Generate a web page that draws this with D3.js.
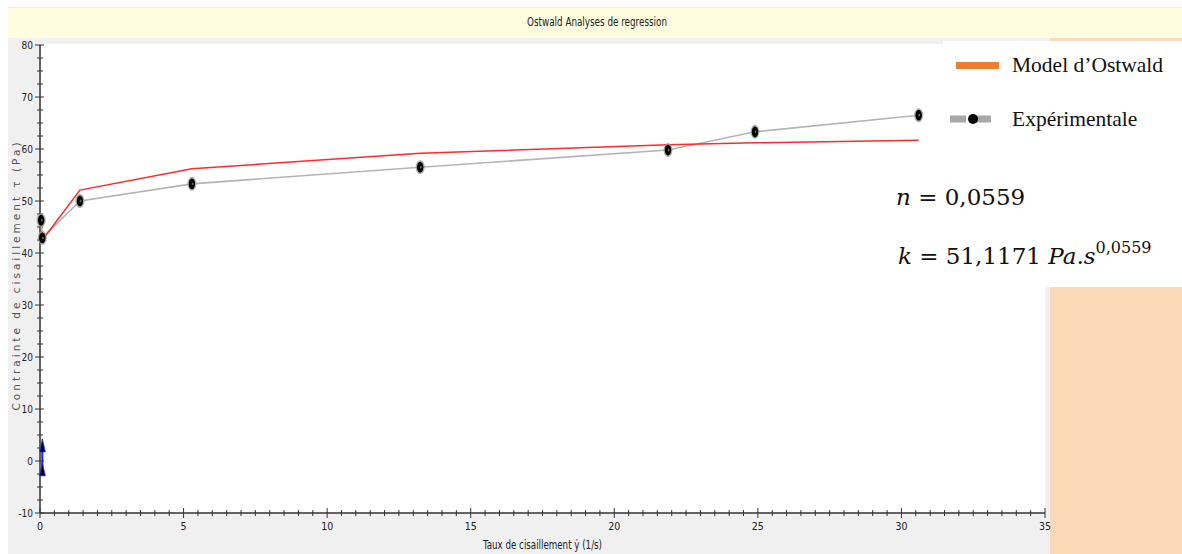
<!DOCTYPE html>
<html>
<head>
<meta charset="utf-8">
<script src="https://cdn.jsdelivr.net/npm/d3@7"></script>
<style>
  html, body { margin: 0; padding: 0; background: #fff; }
  svg { display: block; }
  .narrow { font-family: "Liberation Sans Narrow", "DejaVu Sans Condensed", "Roboto Condensed", sans-serif; font-stretch: condensed; }
</style>
</head>
<body>
<svg id="chart" width="1182" height="554"></svg>
<script>
// Shear rate (1/s) at each measurement
const shearRate = [0.04, 0.08, 1.39, 5.29, 13.24, 21.87, 24.9, 30.6];
// Measured shear stress (Pa)
const stressExp = [46.3, 42.9, 50.0, 53.3, 56.5, 59.8, 63.3, 66.5];
// Ostwald power-law model stress (Pa) at the same shear rates
const stressModel = [44.2, 42.5, 52.1, 56.2, 59.2, 60.8, 61.2, 61.7];
// Small auxiliary marker series near the origin
const auxX = [0.08, 0.08];
const auxY = [2.9, -1.7];

const xTicks = [0, 5, 10, 15, 20, 25, 30, 35];
const yTicks = [-10, 0, 10, 20, 30, 40, 50, 60, 70, 80];

const svg = d3.select("#chart");
const W = 1182, H = 554;

// Backgrounds: window, title bar, chart panel, plot area, side panels
svg.append("rect").attr("width", W).attr("height", H).attr("fill", "#ffffff");
svg.append("rect").attr("x", 8).attr("y", 7).attr("width", W - 8).attr("height", 1).attr("fill", "#ececec");
svg.append("rect").attr("x", 8).attr("y", 8).attr("width", W - 8).attr("height", 30).attr("fill", "#fffde0");
svg.append("rect").attr("x", 8).attr("y", 38).attr("width", 1042).attr("height", H - 38).attr("fill", "#f0f0f0");
svg.append("rect").attr("x", 1050).attr("y", 38).attr("width", W - 1050).attr("height", H - 38).attr("fill", "#fcd9b9");

const x = d3.scaleLinear().domain([0, 35]).range([40, 1045]);
const y = d3.scaleLinear().domain([-10, 80]).range([513, 45]);

svg.append("rect").attr("x", 41).attr("y", 44).attr("width", 1004).attr("height", 469).attr("fill", "#ffffff");
svg.append("rect").attr("x", 943).attr("y", 41).attr("width", W - 943).attr("height", 246).attr("fill", "#ffffff");

// Title
svg.append("text").attr("class", "narrow")
  .attr("x", 527).attr("y", 26)
  .attr("font-size", 12).attr("fill", "#222")
  .attr("textLength", 140).attr("lengthAdjust", "spacingAndGlyphs")
  .text("Ostwald Analyses de regression");

// Axes with major and minor ticks crossing the axis line
const axisColor = "#333";
const gAxes = svg.append("g");

// X axis
gAxes.append("line").attr("x1", x(0)).attr("x2", x(35)).attr("y1", y(-10)).attr("y2", y(-10))
  .attr("stroke", axisColor).attr("stroke-width", 1.5);
const xMinor = d3.range(0, 35.001, 0.5);
gAxes.selectAll(".xminor").data(xMinor).join("line")
  .attr("x1", d => x(d)).attr("x2", d => x(d))
  .attr("y1", d => y(-10) - (xTicks.includes(d) ? 5 : 3))
  .attr("y2", d => y(-10) + (xTicks.includes(d) ? 5 : 3))
  .attr("stroke", axisColor).attr("stroke-width", 1);
gAxes.selectAll(".xlab").data(xTicks).join("text").attr("class", "narrow")
  .attr("x", d => x(d)).attr("y", y(-10) + 17).attr("text-anchor", "middle")
  .attr("font-size", 10.5).attr("fill", "#222").text(d => d);

// Y axis
gAxes.append("line").attr("x1", x(0)).attr("x2", x(0)).attr("y1", y(-10)).attr("y2", y(80))
  .attr("stroke", axisColor).attr("stroke-width", 1.5);
const yMinor = d3.range(-10, 80.001, 2.5);
gAxes.selectAll(".yminor").data(yMinor).join("line")
  .attr("y1", d => y(d)).attr("y2", d => y(d))
  .attr("x1", d => x(0) - (yTicks.includes(d) ? 5 : 3))
  .attr("x2", d => x(0) + (yTicks.includes(d) ? 4 : 3))
  .attr("stroke", axisColor).attr("stroke-width", 1);
gAxes.selectAll(".ylab").data(yTicks).join("text").attr("class", "narrow")
  .attr("x", x(0) - 7).attr("y", d => y(d) + 3.5).attr("text-anchor", "end")
  .attr("font-size", 10).attr("fill", "#222").text(d => d);

// Axis titles
svg.append("text").attr("class", "narrow")
  .attr("x", 483).attr("y", 549)
  .attr("font-size", 11.5).attr("fill", "#222")
  .attr("textLength", 119).attr("lengthAdjust", "spacingAndGlyphs")
  .text("Taux de cisaillement \u1E8F (1/s)");
svg.append("text")
  .attr("transform", "translate(20,275) rotate(-90)")
  .attr("text-anchor", "middle")
  .attr("font-family", "DejaVu Sans, sans-serif")
  .attr("font-size", 10.5).attr("letter-spacing", 3).attr("fill", "#555")
  .text("Contrainte de cisaillement \u03C4 (Pa)");

// Series
const line = d3.line().x(d => x(d[0])).y(d => y(d[1]));
const expPts = shearRate.map((v, i) => [v, stressExp[i]]);
const modelPts = shearRate.map((v, i) => [v, stressModel[i]]);

svg.append("path").datum(expPts).attr("d", line)
  .attr("fill", "none").attr("stroke", "#b4b4b4").attr("stroke-width", 1.6);
svg.append("path").datum(modelPts).attr("d", line)
  .attr("fill", "none").attr("stroke", "#ff2a2a").attr("stroke-width", 1.5);

const marks = svg.append("g").selectAll("g").data(expPts).join("g")
  .attr("transform", d => `translate(${x(d[0])},${y(d[1])})`);
marks.append("ellipse").attr("rx", 4.5).attr("ry", 7).attr("fill", "#9a9a9a").attr("opacity", 0.8);
marks.append("ellipse").attr("rx", 3.2).attr("ry", 5.4).attr("fill", "#000");
marks.append("ellipse").attr("cx", 0.6).attr("rx", 0.9).attr("ry", 1.4).attr("fill", "#666");

// Auxiliary series near the origin
const auxPts = auxX.map((v, i) => [v, auxY[i]]);
svg.append("path").datum(auxPts).attr("d", line)
  .attr("fill", "none").attr("stroke", "#1a1aff").attr("stroke-width", 2);
svg.append("g").selectAll("path").data(auxPts).join("path")
  .attr("transform", d => `translate(${x(d[0])},${y(d[1])})`)
  .attr("d", "M0,-7 L3,6 L-2.5,6 Z")
  .attr("fill", "#000").attr("stroke", "#2020ff").attr("stroke-width", 0.8);

// Legend
const legend = svg.append("g");
legend.append("rect").attr("x", 956).attr("y", 62).attr("width", 43).attr("height", 7).attr("fill", "#ed7d31");
legend.append("text").attr("x", 1012).attr("y", 72)
  .attr("font-family", "Liberation Serif, serif").attr("font-size", 21.5).attr("fill", "#111")
  .text("Model d\u2019Ostwald");
legend.append("line").attr("x1", 950).attr("x2", 998).attr("y1", 119).attr("y2", 119)
  .attr("stroke", "#a8a8a8").attr("stroke-width", 7).attr("stroke-dasharray", "16,9");
legend.append("circle").attr("cx", 973).attr("cy", 119).attr("r", 5).attr("fill", "#000");
legend.append("text").attr("x", 1012).attr("y", 126)
  .attr("font-family", "Liberation Serif, serif").attr("font-size", 21.5).attr("fill", "#111")
  .text("Exp\u00E9rimentale");

// Fitted parameters
const eqFont = "DejaVu Serif, serif";
const eq1 = legend.append("text").attr("x", 896).attr("y", 205)
  .attr("font-family", eqFont).attr("font-size", 23).attr("fill", "#111");
eq1.append("tspan").attr("font-style", "italic").text("n");
eq1.append("tspan").text(" = 0,0559");

const eq2 = legend.append("text").attr("x", 898).attr("y", 264)
  .attr("font-family", eqFont).attr("font-size", 23).attr("fill", "#111");
eq2.append("tspan").attr("font-style", "italic").text("k");
eq2.append("tspan").text(" = 51,1171 ");
eq2.append("tspan").attr("font-style", "italic").text("Pa");
eq2.append("tspan").text(".");
eq2.append("tspan").attr("font-style", "italic").text("s");
eq2.append("tspan").attr("font-size", 16).attr("dy", -11).text("0,0559");
</script>
</body>
</html>
